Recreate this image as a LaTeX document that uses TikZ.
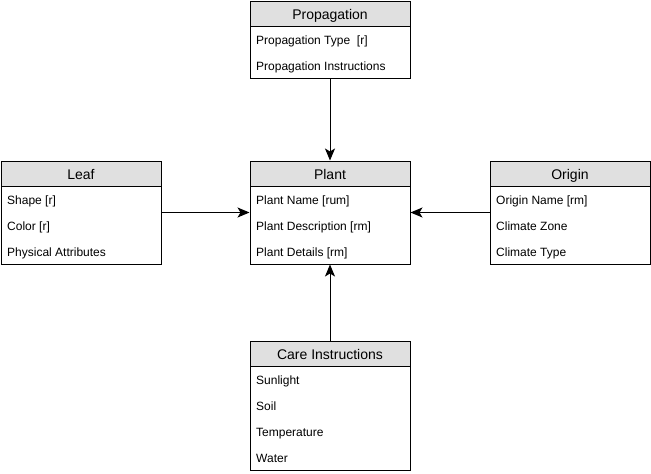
\documentclass[tikz,border=0pt]{standalone}
\usepackage{fontspec}
\setmainfont{Liberation Sans}
\usetikzlibrary{arrows.meta}

\begin{document}
\begin{tikzpicture}[x=1pt, y=-1pt, >={Stealth[length=12pt, width=10pt, inset=3pt]},
  entity/.style={draw, line width=1pt, minimum width=160pt, inner sep=0pt},
  header/.style={draw, line width=1pt, fill=black!12, minimum width=160pt, minimum height=25pt, inner sep=0pt, anchor=north, text height=13pt, text depth=2pt, font=\fontsize{14}{16}\selectfont},
  field/.style={anchor=west, inner sep=0pt, text height=10pt, text depth=1.5pt, font=\fontsize{12}{14}\selectfont},
  link/.style={->, line width=1pt}]

% page frame
\useasboundingbox (0,0) rectangle (651,474);

% PROPAGATION
\node[entity, minimum height=77pt] (prop) at (330,39.5) {};
\node[header] (prophead) at (prop.north) {Propagation};
\node[field] (prop1) at (256,40) {Propagation Type\ \ [r]};
\node[field] (prop2) at (256,66) {Propagation Instructions};

% LEAF
\node[entity, minimum height=103pt] (leaf) at (81,212.5) {};
\node[header] (leafhead) at (leaf.north) {Leaf};
\foreach \t [count=\i] in {Shape [r], Color [r], Physical Attributes}
  \node[field] (leaf\i) at (7,174+26*\i) {\t};

% PLANT
\node[entity, minimum height=103pt] (plant) at (330,212.5) {};
\node[header] (planthead) at (plant.north) {Plant};
\foreach \t [count=\i] in {Plant Name [rum], Plant Description [rm], Plant Details [rm]}
  \node[field] (plant\i) at (256,174+26*\i) {\t};

% ORIGIN
\node[entity, minimum height=103pt] (origin) at (570,212.5) {};
\node[header] (originhead) at (origin.north) {Origin};
\foreach \t [count=\i] in {Origin Name [rm], Climate Zone, Climate Type}
  \node[field] (origin\i) at (496,174+26*\i) {\t};

% CARE INSTRUCTIONS
\node[entity, minimum height=129pt] (care) at (330,405.5) {};
\node[header] (carehead) at (care.north) {Care Instructions};
\foreach \t [count=\i] in {Sunlight, Soil, Temperature, Water}
  \node[field] (care\i) at (256,354+26*\i) {\t};

% links into Plant
\draw[link] (prop.south) -- (plant.north);
\draw[link] (leaf.east) -- (plant.west);
\draw[link] (origin.west) -- (plant.east);
\draw[link] (care.north) -- (plant.south);

\end{tikzpicture}
\end{document}
